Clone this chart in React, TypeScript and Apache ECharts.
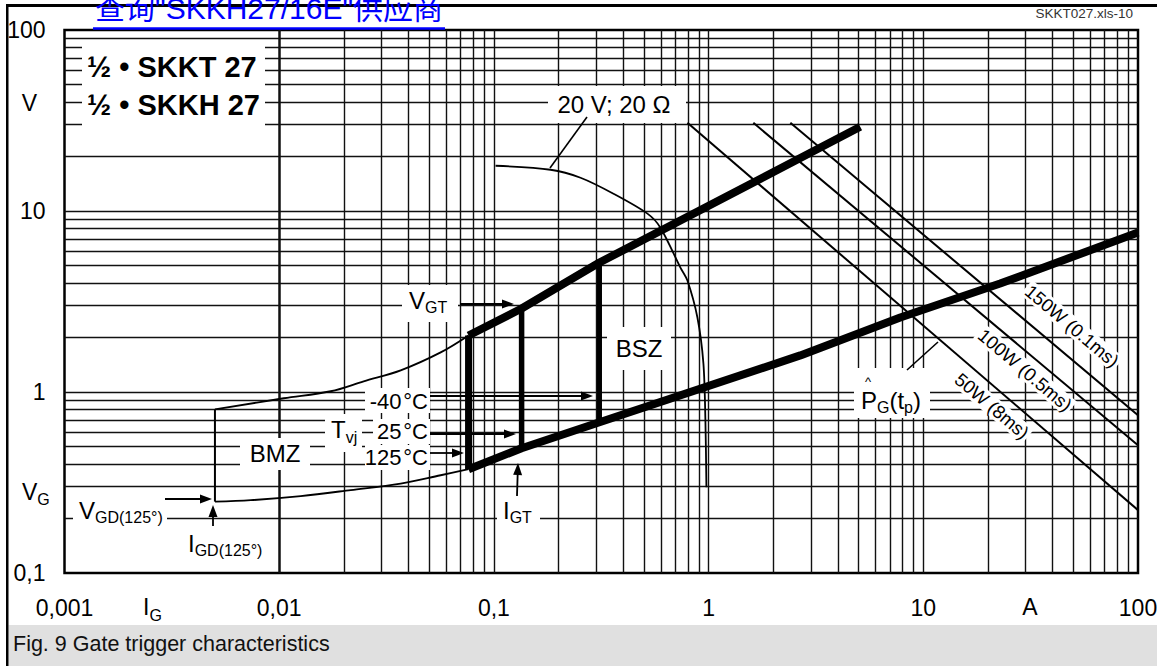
import React, { useEffect, useRef } from 'react';
import * as echarts from 'echarts';

// ---------- data ----------
const X_TICK_LABELS = ['0,001', '0,01', '0,1', '1', '10', '100'];
const Y_TICK_LABELS = ['0,1', '1', '10', '100'];
const X_DECADES = [0.001, 0.01, 0.1, 1, 10, 100];
const Y_DECADES = [0.1, 1, 10, 100];
const GRID_STEPS = [1, 2, 3, 4, 5, 6, 7, 8, 9];

// thin boundary of BMZ (upper and lower), and the IGD step
const BMZ_UPPER = [[0.00502, 0.802], [0.0105, 0.923], [0.01738, 1.009], [0.02475, 1.145], [0.0368, 1.317], [0.0565, 1.655], [0.0762, 2.053]];
const BMZ_LOWER = [[0.00502, 0.248], [0.00738, 0.2527], [0.0126, 0.266], [0.02154, 0.287], [0.0368, 0.3117], [0.0565, 0.347], [0.0762, 0.3746]];
const IGD_STEP = [[0.00502, 0.248], [0.00502, 0.802]];
// thick boundaries
const VGT_BOUND = [[0.0762, 2.053], [0.1346, 2.893], [0.3103, 5.189], [5.085, 29.18]];
const LOWER_BOUND = [[0.0762, 0.3746], [0.1346, 0.489], [0.3103, 0.68], [2.674, 1.593], [7.81, 2.581], [22.8, 3.976], [100, 7.597]];
// vertical bars (125 °C, 25 °C, -40 °C)
const BAR_125 = [[0.0762, 0.3746], [0.0762, 2.053]];
const BAR_25 = [[0.1346, 0.489], [0.1346, 2.893]];
const BAR_M40 = [[0.3103, 0.68], [0.3103, 5.189]];
// 20 V; 20 Ohm load curve
const LOAD_LINE = [[0.1018, 17.78], [0.1836, 16.9], [0.2532, 15.27], [0.3606, 12.46], [0.519, 9.67], [0.5966, 8.09], [0.7391, 4.87], [0.7967, 4.13], [0.8869, 2.58], [0.9458, 1.44], [0.9663, 0.698], [0.9768, 0.298]];
// peak gate power lines
const P_50W = [[0.797, 30.7], [100, 0.2225]];
const P_100W = [[1.616, 30.7], [100, 0.508]];
const P_150W = [[2.403, 30.7], [100, 0.7435]];

// ---------- helpers ----------
const FONT = '"Liberation Sans", Arial, Helvetica, sans-serif';
const CJK_FONT = '"Liberation Sans", Arial, "Noto Sans CJK SC", sans-serif';

let mctx: any = null;
function textWidth(t: string, font: string): number {
  if (!mctx) mctx = document.createElement('canvas').getContext('2d');
  mctx.font = font;
  return mctx.measureText(t).width;
}

function txt(x: number, y: number, text: string, size: number, o: any = {}) {
  const font = `${o.weight || 'normal'} ${size}px ${o.family || FONT}`;
  return {
    type: 'text', x, y, z: o.z || 4, silent: true, rotation: o.rotation || 0,
    style: {
      text, font, fill: o.fill || '#000', align: o.align || 'left', verticalAlign: 'middle',
      ...(o.bg ? { backgroundColor: '#fff', padding: o.padding || [1, 3] } : {}),
    },
  };
}

function runs(x0: number, y: number, parts: Array<[string, number, number]>) {
  const out: any[] = [];
  let x = x0;
  for (const [t, size, dy] of parts) {
    out.push(txt(x, y + dy, t, size));
    x += textWidth(t, `normal ${size}px ${FONT}`);
  }
  return out;
}

function box(x1: number, y1: number, x2: number, y2: number) {
  return { type: 'rect', z: 3, silent: true, shape: { x: x1, y: y1, width: x2 - x1, height: y2 - y1 }, style: { fill: '#fff' } };
}

function arrow(x1: number, y1: number, x2: number, y2: number) {
  const dx = x2 - x1, dy = y2 - y1;
  const len = Math.hypot(dx, dy);
  const ux = dx / len, uy = dy / len;
  const hl = 12, hw = 4.5;
  const bx = x2 - ux * hl, by = y2 - uy * hl;
  return [
    { type: 'line', z: 6, silent: true, shape: { x1, y1, x2: bx + ux * 2, y2: by + uy * 2 }, style: { stroke: '#000', lineWidth: 1.8 } },
    { type: 'polygon', z: 6, silent: true, shape: { points: [[x2, y2], [bx - uy * hw, by + ux * hw], [bx + uy * hw, by - ux * hw]] }, style: { fill: '#000' } },
  ];
}

function leader(x1: number, y1: number, x2: number, y2: number) {
  return { type: 'line', z: 6, silent: true, shape: { x1, y1, x2, y2 }, style: { stroke: '#000', lineWidth: 1.6 } };
}

function curve(data: number[][], width: number, smooth: number | boolean = false) {
  return {
    type: 'line', data, z: 5, symbol: 'none', showSymbol: false, smooth, silent: true,
    lineStyle: { color: '#000', width, cap: 'butt', join: 'round' },
    emphasis: { disabled: true },
  };
}

export default function App() {
  const ref = useRef<HTMLDivElement>(null);

  useEffect(() => {
    document.body.style.margin = '0';
    document.body.style.background = '#fff';
    if (!ref.current) return;
    const chart = echarts.init(ref.current, undefined, { renderer: 'svg' });

    const xGrid: number[] = [];
    X_DECADES.slice(0, -1).forEach((d) => GRID_STEPS.forEach((s) => { if (s > 1 || d > X_DECADES[0]) xGrid.push(d * s); }));
    const yGrid: number[] = [];
    Y_DECADES.slice(0, -1).forEach((d) => GRID_STEPS.forEach((s) => { if (s > 1 || d > Y_DECADES[0]) yGrid.push(d * s); }));

    const rot = -40.3 * Math.PI / 180;
    const L = 24; // main label size
    const S = 16; // subscript size

    const graphics: any[] = [
      // frame and caption band
      { type: 'rect', z: 0, silent: true, shape: { x: 8.5, y: 625, width: 1148.5, height: 41 }, style: { fill: '#e0e0e0' } },
      { type: 'rect', z: 7, silent: true, shape: { x: 6, y: 4, width: 1151, height: 3 }, style: { fill: '#000' } },
      { type: 'rect', z: 7, silent: true, shape: { x: 6, y: 4, width: 2.5, height: 662 }, style: { fill: '#000' } },
      // link
      txt(95, 8.6, '查询"SKKH27/16E"供应商', 30, { fill: '#0000ff', family: CJK_FONT, z: 8 }),
      { type: 'rect', z: 8, silent: true, shape: { x: 93, y: 27.3, width: 352, height: 2.5 }, style: { fill: '#0000ff' } },
      txt(1133, 13, 'SKKT027.xls-10', 13.5, { align: 'right', fill: '#333' }),
      txt(13, 644, 'Fig. 9 Gate trigger characteristics', 21.5, { fill: '#111' }),

      // white label boxes
      box(82, 45, 265, 127),
      box(548, 86, 686, 123),
      box(402, 285, 458, 322),
      box(607, 327, 671, 370),
      box(365, 388, 430, 413),
      box(373, 419, 430, 444),
      box(365, 445, 430, 470),
      box(325, 414, 362, 452),
      box(240, 438, 310, 470),
      box(497, 497, 540, 530),
      box(73, 497, 167, 532),
      box(183, 526, 272, 566),
      box(854, 368, 930, 418),

      // labels
      txt(87, 67, '½ • SKKT 27', 29, { weight: 'bold' }),
      txt(87, 105, '½ • SKKH 27', 29, { weight: 'bold' }),
      txt(29.5, 103, 'V', 23, { align: 'center' }),
      ...runs(22, 492, [['V', 23, 0], ['G', S, 7]]),
      ...runs(143, 607, [['I', 23, 0], ['G', S, 8]]),
      txt(1030, 607, 'A', 23, { align: 'center' }),
      txt(614, 104, '20 V; 20 Ω', L, { align: 'center' }),
      ...runs(409, 300, [['V', L, 0], ['GT', S, 7]]),
      txt(639, 348, 'BSZ', L, { align: 'center' }),
      txt(428, 401, '-40\u200a°C', 22, { align: 'right' }),
      txt(428, 431, '25\u200a°C', 22, { align: 'right' }),
      txt(428, 457, '125\u200a°C', 22, { align: 'right' }),
      ...runs(331, 429, [['T', L, 0], ['vj', S, 8]]),
      txt(275, 453, 'BMZ', L, { align: 'center' }),
      ...runs(503, 510, [['I', L, 0], ['GT', S, 7]]),
      ...runs(79, 510, [['V', L, 0], ['GD(125°)', S, 7]]),
      ...runs(188, 543, [['I', L, 0], ['GD(125°)', S, 7]]),
      ...runs(861, 400, [['P', L, 0], ['G', S, 7], ['(t', L, 0], ['p', S, 7], [')', L, 0]]),
      txt(868, 381, '^', 13, { align: 'center' }),
      txt(1072, 326, '150W (0.1ms)', 18.5, { align: 'center', rotation: rot, bg: true, padding: [0, 2] }),
      txt(1025, 370, '100W (0.5ms)', 18.5, { align: 'center', rotation: rot, bg: true, padding: [0, 2] }),
      txt(992, 406, '50W (8ms)', 18.5, { align: 'center', rotation: rot, bg: true, padding: [0, 2] }),

      // arrows and leaders
      ...arrow(460, 304, 514, 304),
      ...arrow(430, 396, 593, 396),
      ...arrow(430, 434, 516, 434),
      ...arrow(430, 453, 464, 453),
      ...arrow(517, 496, 518, 463),
      ...arrow(165, 499, 212, 499),
      ...arrow(213, 526, 213, 505),
      leader(550, 168, 587, 117),
      leader(907, 370, 938, 342),
    ];

    const option: any = {
      animation: false,
      backgroundColor: '#fff',
      tooltip: { show: false },
      grid: {
        left: 64.5, top: 30, right: 19, bottom: 93,
        show: true, borderColor: '#000', borderWidth: 2.5, backgroundColor: 'transparent',
        containLabel: false, outerBoundsMode: 'none',
      },
      xAxis: {
        type: 'log', logBase: 10, min: 0.001, max: 100,
        axisLine: { show: false }, axisTick: { show: false }, splitLine: { show: false },
        axisLabel: {
          fontSize: 23, fontFamily: FONT, color: '#000', margin: 23, showMinLabel: true, showMaxLabel: true,
          formatter: (v: number) => X_TICK_LABELS[Math.round(Math.log10(v)) + 3] ?? '',
        },
      },
      yAxis: {
        type: 'log', logBase: 10, min: 0.1, max: 100,
        axisLine: { show: false }, axisTick: { show: false }, splitLine: { show: false },
        axisLabel: {
          fontSize: 23, fontFamily: FONT, color: '#000', margin: 19, showMinLabel: true, showMaxLabel: true,
          formatter: (v: number) => Y_TICK_LABELS[Math.round(Math.log10(v)) + 1] ?? '',
        },
      },
      series: [
        {
          type: 'line', z: 1, data: [[0.001, 0.1]], symbol: 'none', silent: true,
          lineStyle: { width: 0 },
          markLine: {
            z: 1, zlevel: 0,
            silent: true, symbol: ['none', 'none'], label: { show: false }, animation: false,
            emphasis: { disabled: true },
            lineStyle: { color: '#111', width: 1.4, type: 'solid' },
            data: [...xGrid.map((v) => ({ xAxis: v })), ...yGrid.map((v) => ({ yAxis: v }))],
          },
        },
        curve(BMZ_UPPER, 1.9, 0.35),
        curve(BMZ_LOWER, 1.9, 0.35),
        curve(IGD_STEP, 2),
        curve(LOAD_LINE, 1.8, 0.3),
        curve(P_50W, 2),
        curve(P_100W, 2),
        curve(P_150W, 2),
        curve(VGT_BOUND, 8),
        curve(LOWER_BOUND, 8),
        curve(BAR_125, 7),
        curve(BAR_25, 5.5),
        curve(BAR_M40, 5),
      ],
      graphic: graphics,
    };

    chart.setOption(option);
    return () => chart.dispose();
  }, []);

  return <div ref={ref} style={{ width: 1157, height: 666 }} />;
}
